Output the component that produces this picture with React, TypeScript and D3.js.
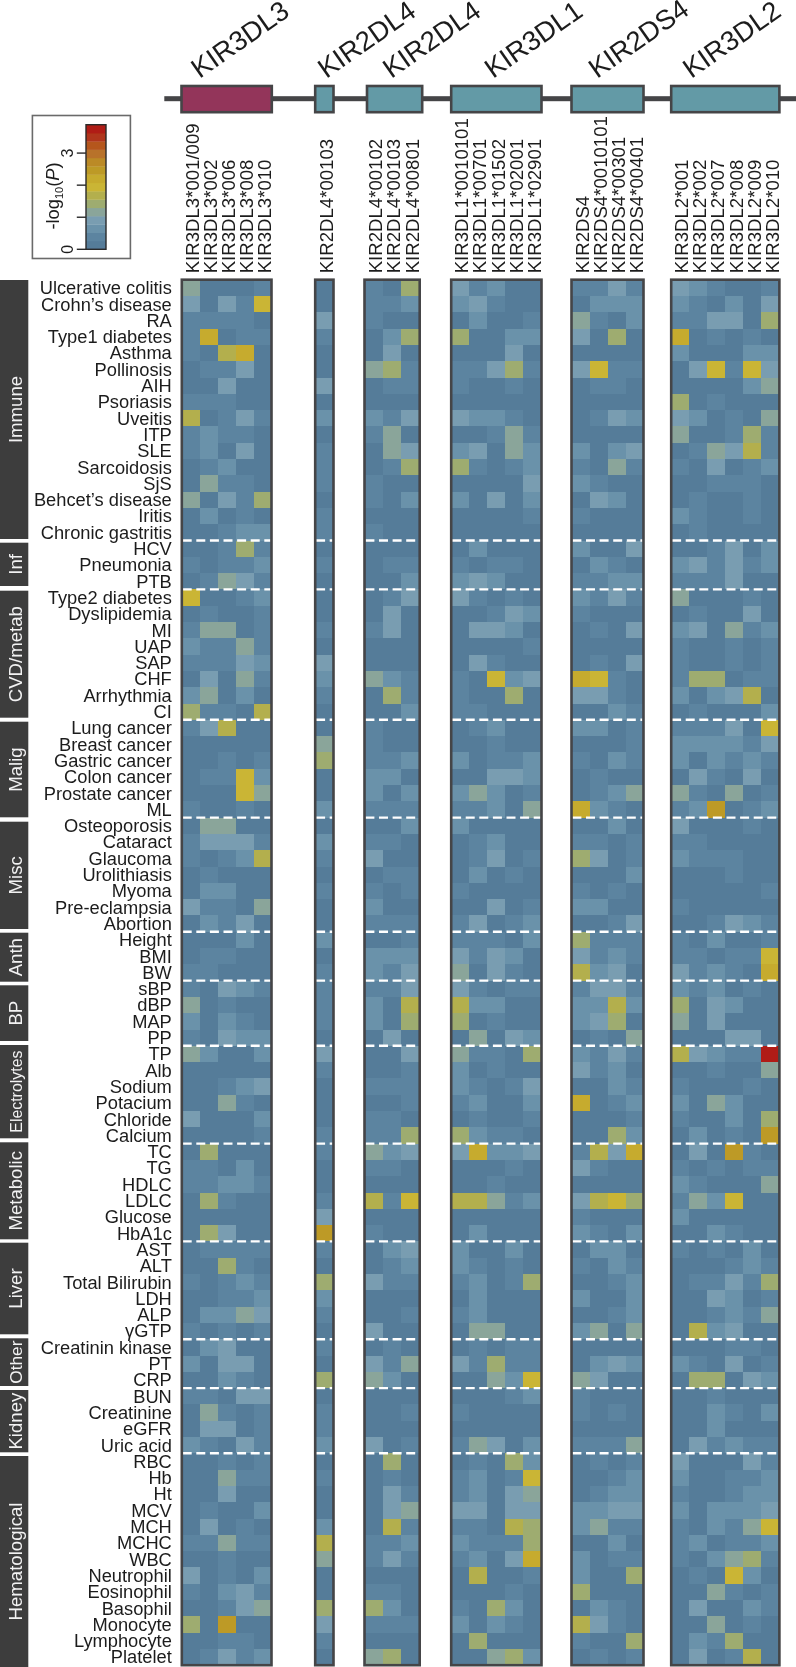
import React from "react";
import * as d3 from "d3";

const groupNames = ["Immune","Inf","CVD/metab","Malig","Misc","Anth","BP","Electrolytes","Metabolic","Liver","Other","Kidney","Hematological"];
const groupSizes = [16,3,8,6,7,3,4,6,6,6,3,4,13];
const traits = ["Ulcerative colitis","Crohn’s disease","RA","Type1 diabetes","Asthma","Pollinosis","AIH","Psoriasis","Uveitis","ITP","SLE","Sarcoidosis","SjS","Behcet’s disease","Iritis","Chronic gastritis",
"HCV","Pneumonia","PTB",
"Type2 diabetes","Dyslipidemia","MI","UAP","SAP","CHF","Arrhythmia","CI",
"Lung cancer","Breast cancer","Gastric cancer","Colon cancer","Prostate cancer","ML",
"Osteoporosis","Cataract","Glaucoma","Urolithiasis","Myoma","Pre-eclampsia","Abortion",
"Height","BMI","BW",
"sBP","dBP","MAP","PP",
"TP","Alb","Sodium","Potacium","Chloride","Calcium",
"TC","TG","HDLC","LDLC","Glucose","HbA1c",
"AST","ALT","Total Bilirubin","LDH","ALP","γGTP",
"Creatinin kinase","PT","CRP",
"BUN","Creatinine","eGFR","Uric acid",
"RBC","Hb","Ht","MCV","MCH","MCHC","WBC","Neutrophil","Eosinophil","Basophil","Monocyte","Lymphocyte","Platelet"];

const geneNames = ["KIR3DL3","KIR2DL4","KIR2DL4","KIR3DL1","KIR2DS4","KIR3DL2"];
const allelesA = ["KIR3DL3*001/009","KIR3DL3*002","KIR3DL3*006","KIR3DL3*008","KIR3DL3*010"];
const allelesB = ["KIR2DL4*00103"];
const allelesC = ["KIR2DL4*00102","KIR2DL4*00103","KIR2DL4*00801"];
const allelesD = ["KIR3DL1*0010101","KIR3DL1*00701","KIR3DL1*01502","KIR3DL1*02001","KIR3DL1*02901"];
const allelesE = ["KIR2DS4","KIR2DS4*0010101","KIR2DS4*00301","KIR2DS4*00401"];
const allelesF = ["KIR3DL2*001","KIR3DL2*002","KIR3DL2*007","KIR3DL2*008","KIR3DL2*009","KIR3DL2*010"];

// each string is one trait row; each character is the colour-bar step (hex) read for one allele
const valuesA = ["40001","30317","11110","18011","10680","01130","00300","11100","60131","12110","12030","01200","04110","40315","02010","00122",
"00151","10112","01431",
"70012","01001","14401","21141","11132","03041","24020","51106",
"13600","00000","00101","01172","00074","10010",
"04400","13331","10126","01000","02200","31104","02130",
"00020","01100","11000",
"10321","40100","20210","10322",
"42002","00000","00123","00410","30002","00001",
"05000","11020","11221","05100","00000","05300",
"01111","00510","10121","00112","02243","10101",
"02300","20330","00210",
"11033","04101","03301","21031",
"00101","00411","00300","01002","03010","11411","00100","30102","10231","00134","50900","00110","01312"];
const valuesB = ["0","0","3","1","0","0","3","0","2","0","1","1","1","0","1","1",
"0","1","0",
"0","0","1","0","3","2","1","0",
"0","4","5","0","0","2",
"0","2","1","0","1","0","0",
"2","0","1",
"1","1","1","0",
"3","1","0","0","0","1",
"1","0","0","1","3","9",
"1","0","5","2","1","0",
"1","0","5",
"0","1","1","2",
"0","1","0","0","2","6","4","0","0","5","3","1","0"];
const valuesC = ["105","112","100","025","030","451","011","000","213","140","043","015","100","102","000","100",
"000","011","002",
"013","030","130","000","000","421","051","002",
"100","100","112","220","202","111",
"002","110","300","011","101","200","111",
"001","222","213",
"113","206","205","030",
"003","001","111","001","110","115",
"423","110","000","617","000","100",
"023","012","311","000","001","300",
"010","314","420",
"000","001","000","301",
"050","010","031","034","061","112","131","000","110","520","111","000","450"];
const valuesD = ["31200","23100","02001","50022","00030","11351","10010","00000","32210","00141","23042","51012","00003","20302","00001","00000",
"02000","10110","23200",
"31010","00132","03320","00001","03100","10723","10050","11000",
"01200","00100","20112","00332","24201","11204",
"20000","01200","01301","02010","10000","00301","13012",
"11102","31320","40310",
"31011","62200","50100","04032",
"41105","20100","21013","12002","01001","52110",
"38223","00010","00100","66412","00000","02000",
"20020","21010","12015","02000","12000","04400",
"01011","31511","00427",
"00012","10000","00000","14302",
"01052","12017","12034","33033","11065","21115","12038","06001","00010","10520","20210","05000","00452"];
const valuesE = ["1131","0222","4102","3050","0000","3711","0110","0000","0132","0000","2023","1041","2100","0320","1000","0000",
"2003","0210","1122",
"2131","1000","0103","0000","0103","8710","3310","0021",
"2201","0001","1021","0100","0124","8210",
"0020","1101","5301","0002","1010","2200","0013",
"5111","3121","6230",
"1331","2262","2350","0104",
"2131","3120","0021","8012","0001","0052",
"1638","3100","0000","3675","1000","2102",
"0220","1021","0012","2002","0012","2404",
"0000","0232","4300",
"1000","1010","0000","1114",
"0101","0012","0122","2233","2411","0020","2011","2005","5000","0210","6310","1005","0101"];
const valuesF = ["321001","210203","113305","801010","200022","037173","000024","501000","320104","400151","014361","103012","001110","010010","210010","010000",
"001302","231312","111300",
"400010","010030","230412","100101","100101","155011","202360","010002",
"111307","222213","202121","031030","410401","129012",
"300010","110000","211100","000100","000001","100000","001321",
"102001","110117","312108",
"212010","503200","403000","000330",
"63211e","001004","100010","204200","100205","020109",
"030910","101011","210004","142700","200000","002100",
"101020","000121","011315","003201","001214","062300",
"000110","210301","055032",
"001000","002102","002000","031211",
"300031","200112","100122","202223","102147","120112","102451","010720","004101","030021","004010","021500","030160"];

const stepColors = ["#547b99","#5b84a0","#6a92aa","#799db1","#8aa59a","#9eac70","#b3af4d","#cab534","#c6ab2f","#bd9a27","#bb8a28","#b8722a","#b5561f","#b0341a","#b01f17"];

const W = 796, H = 1667;
const FONT = "'Liberation Sans', Arial, sans-serif";
const TXT = "#1c1c1c";
const DARK = "#444446";
const maxP = 3.885;
const stepSize = maxP / stepColors.length;
const color = d3.scaleQuantize<string>().domain([0, maxP]).range(stepColors);
const toP = (c: string) => (parseInt(c, 16) + 0.5) * stepSize;

const top = 279.7, rowH = 16.3;
const y = d3.scaleBand<string>().domain(traits).range([top, top + rowH * traits.length]).paddingInner(0).paddingOuter(0);

const boundaries = d3.cumsum(groupSizes);
const dashed = Array.from(boundaries).slice(0, -1);

// side bars do not sit exactly on the row boundaries in the reference
const barEdges = [[280,539],[542.7,586],[590.7,717.7],[721.7,817.3],[821.7,929],[932.7,981.7],[985.3,1041],[1045,1138.3],[1142.3,1239.3],[1242.7,1334.3],[1338.3,1386],[1390,1452.3],[1456,1667]];
const barFontSizes = [18.6,18.6,18.6,18.6,18.6,18.6,18.6,15.9,18.6,18.6,17.3,18.6,18.6];

const panels = [
  { gene: geneNames[0], alleles: allelesA, values: valuesA, x0: 181.8, x1: 271.5, box: [181.5, 271.8], fill: "#93345a", titleX: 199.6 },
  { gene: geneNames[1], alleles: allelesB, values: valuesB, x0: 315.2, x1: 333.5, box: [315.2, 333.5], fill: "#639aa6", titleX: 326.3 },
  { gene: geneNames[2], alleles: allelesC, values: valuesC, x0: 364.5, x1: 419.7, box: [367, 422.2], fill: "#639aa6", titleX: 391.3 },
  { gene: geneNames[3], alleles: allelesD, values: valuesD, x0: 451.2, x1: 541.5, box: [451.2, 541.5], fill: "#639aa6", titleX: 493 },
  { gene: geneNames[4], alleles: allelesE, values: valuesE, x0: 571.5, x1: 643.5, box: [571.5, 643.5], fill: "#639aa6", titleX: 597 },
  { gene: geneNames[5], alleles: allelesF, values: valuesF, x0: 671.2, x1: 779.4, box: [671.2, 779.4], fill: "#639aa6", titleX: 691.3 },
];

const legendY = d3.scaleLinear().domain([0, maxP]).range([249.3, 124.7]);
const legendSteps = d3.range(stepColors.length);
const legendTicks = [0, 1, 2, 3];
const legendLabels = [0, 3];

export default function App() {
  return (
    <svg width={W} height={H} viewBox={`0 0 ${W} ${H}`} style={{ position: "absolute", left: 0, top: 0, display: "block", background: "#fff" }} fontFamily={FONT}>
      <defs>
        <filter id="soft" x="0" y="0" width="100%" height="100%" filterUnits="userSpaceOnUse" primitiveUnits="userSpaceOnUse">
          <feGaussianBlur stdDeviation="0.35" />
        </filter>
      </defs>
      <g filter="url(#soft)">
        <rect x={0} y={0} width={W} height={H} fill="#fff" />
        {/* gene track */}
        <rect x={164.3} y={96.2} width={W - 164.3} height={5} fill={DARK} />
        {panels.map((p, i) => (
          <g key={i}>
            <rect x={p.box[0]} y={86} width={p.box[1] - p.box[0]} height={26.2} fill={p.fill} stroke={DARK} strokeWidth={2.6} />
            <text transform={`translate(${p.titleX},79) rotate(-35)`} fontSize={27.5} fill={TXT}>{p.gene}</text>
          </g>
        ))}

        {/* legend */}
        <rect x={32.4} y={115.5} width={98} height={143} fill="none" stroke="#6a6a6a" strokeWidth={1.6} />
        {legendSteps.map(s => (
          <rect key={s} x={86} y={legendY((s + 1) * stepSize)} width={20} height={legendY(s * stepSize) - legendY((s + 1) * stepSize) + 0.3} fill={color((s + 0.5) * stepSize)} />
        ))}
        <rect x={86} y={124.7} width={20} height={124.6} fill="none" stroke="#2a2a2a" strokeWidth={1.4} />
        {legendTicks.map(t => (
          <line key={t} x1={76.8} x2={86} y1={legendY(t)} y2={legendY(t)} stroke="#2a2a2a" strokeWidth={1.4} />
        ))}
        {legendLabels.map(t => (
          <text key={t} transform={`translate(72.5,${legendY(t)}) rotate(-90)`} textAnchor="middle" fontSize={16} fill={TXT}>{t}</text>
        ))}
        <text transform="translate(58.5,196) rotate(-90)" textAnchor="middle" fontSize={18.3} fill={TXT}>
          -log<tspan fontSize={11} dy={4}>10</tspan><tspan dy={-4}>(</tspan><tspan fontStyle="italic">P</tspan>)
        </text>

        {/* group bars */}
        {groupNames.map((g, i) => {
          const [yA, yB] = barEdges[i];
          return (
            <g key={g}>
              <rect x={0} y={yA} width={28.3} height={yB - yA} fill="#3d3c3e" />
              <text transform={`translate(21.6,${(yA + yB) / 2}) rotate(-90)`} textAnchor="middle" fontSize={barFontSizes[i]} fill="#f2f2f2">{g}</text>
            </g>
          );
        })}

        {/* trait labels */}
        {traits.map(t => (
          <text key={t} x={171.8} y={(y(t) as number) + y.bandwidth() / 2 + 6.4} textAnchor="end" fontSize={18.3} fill={TXT}>{t}</text>
        ))}

        {/* heatmap panels */}
        {panels.map((p, i) => {
          const x = d3.scaleBand<string>().domain(p.alleles).range([p.x0, p.x1]);
          return (
            <g key={i}>
              <g shapeRendering="crispEdges">
                {traits.map((t, r) =>
                  p.alleles.map((a, c) => (
                    <rect key={a + r} x={x(a)} y={y(t)} width={x.bandwidth() + 0.4} height={y.bandwidth() + 0.4} fill={color(toP(p.values[r][c]))} />
                  ))
                )}
              </g>
              {dashed.map(d => (
                <line key={d} x1={p.x0 + 0.9} x2={p.x1 - 0.9} y1={top + d * rowH} y2={top + d * rowH} stroke="#fff" strokeWidth={2.4} strokeDasharray="9 4.6" />
              ))}
              <rect x={p.x0} y={top} width={p.x1 - p.x0} height={rowH * traits.length} fill="none" stroke={DARK} strokeWidth={2.6} />
              {p.alleles.map(a => (
                <text key={a} transform={`translate(${(x(a) as number) + x.bandwidth() / 2 + 8.2},273.3) rotate(-90)`} fontSize={18.6} fill={TXT}>{a}</text>
              ))}
            </g>
          );
        })}
      </g>
    </svg>
  );
}
